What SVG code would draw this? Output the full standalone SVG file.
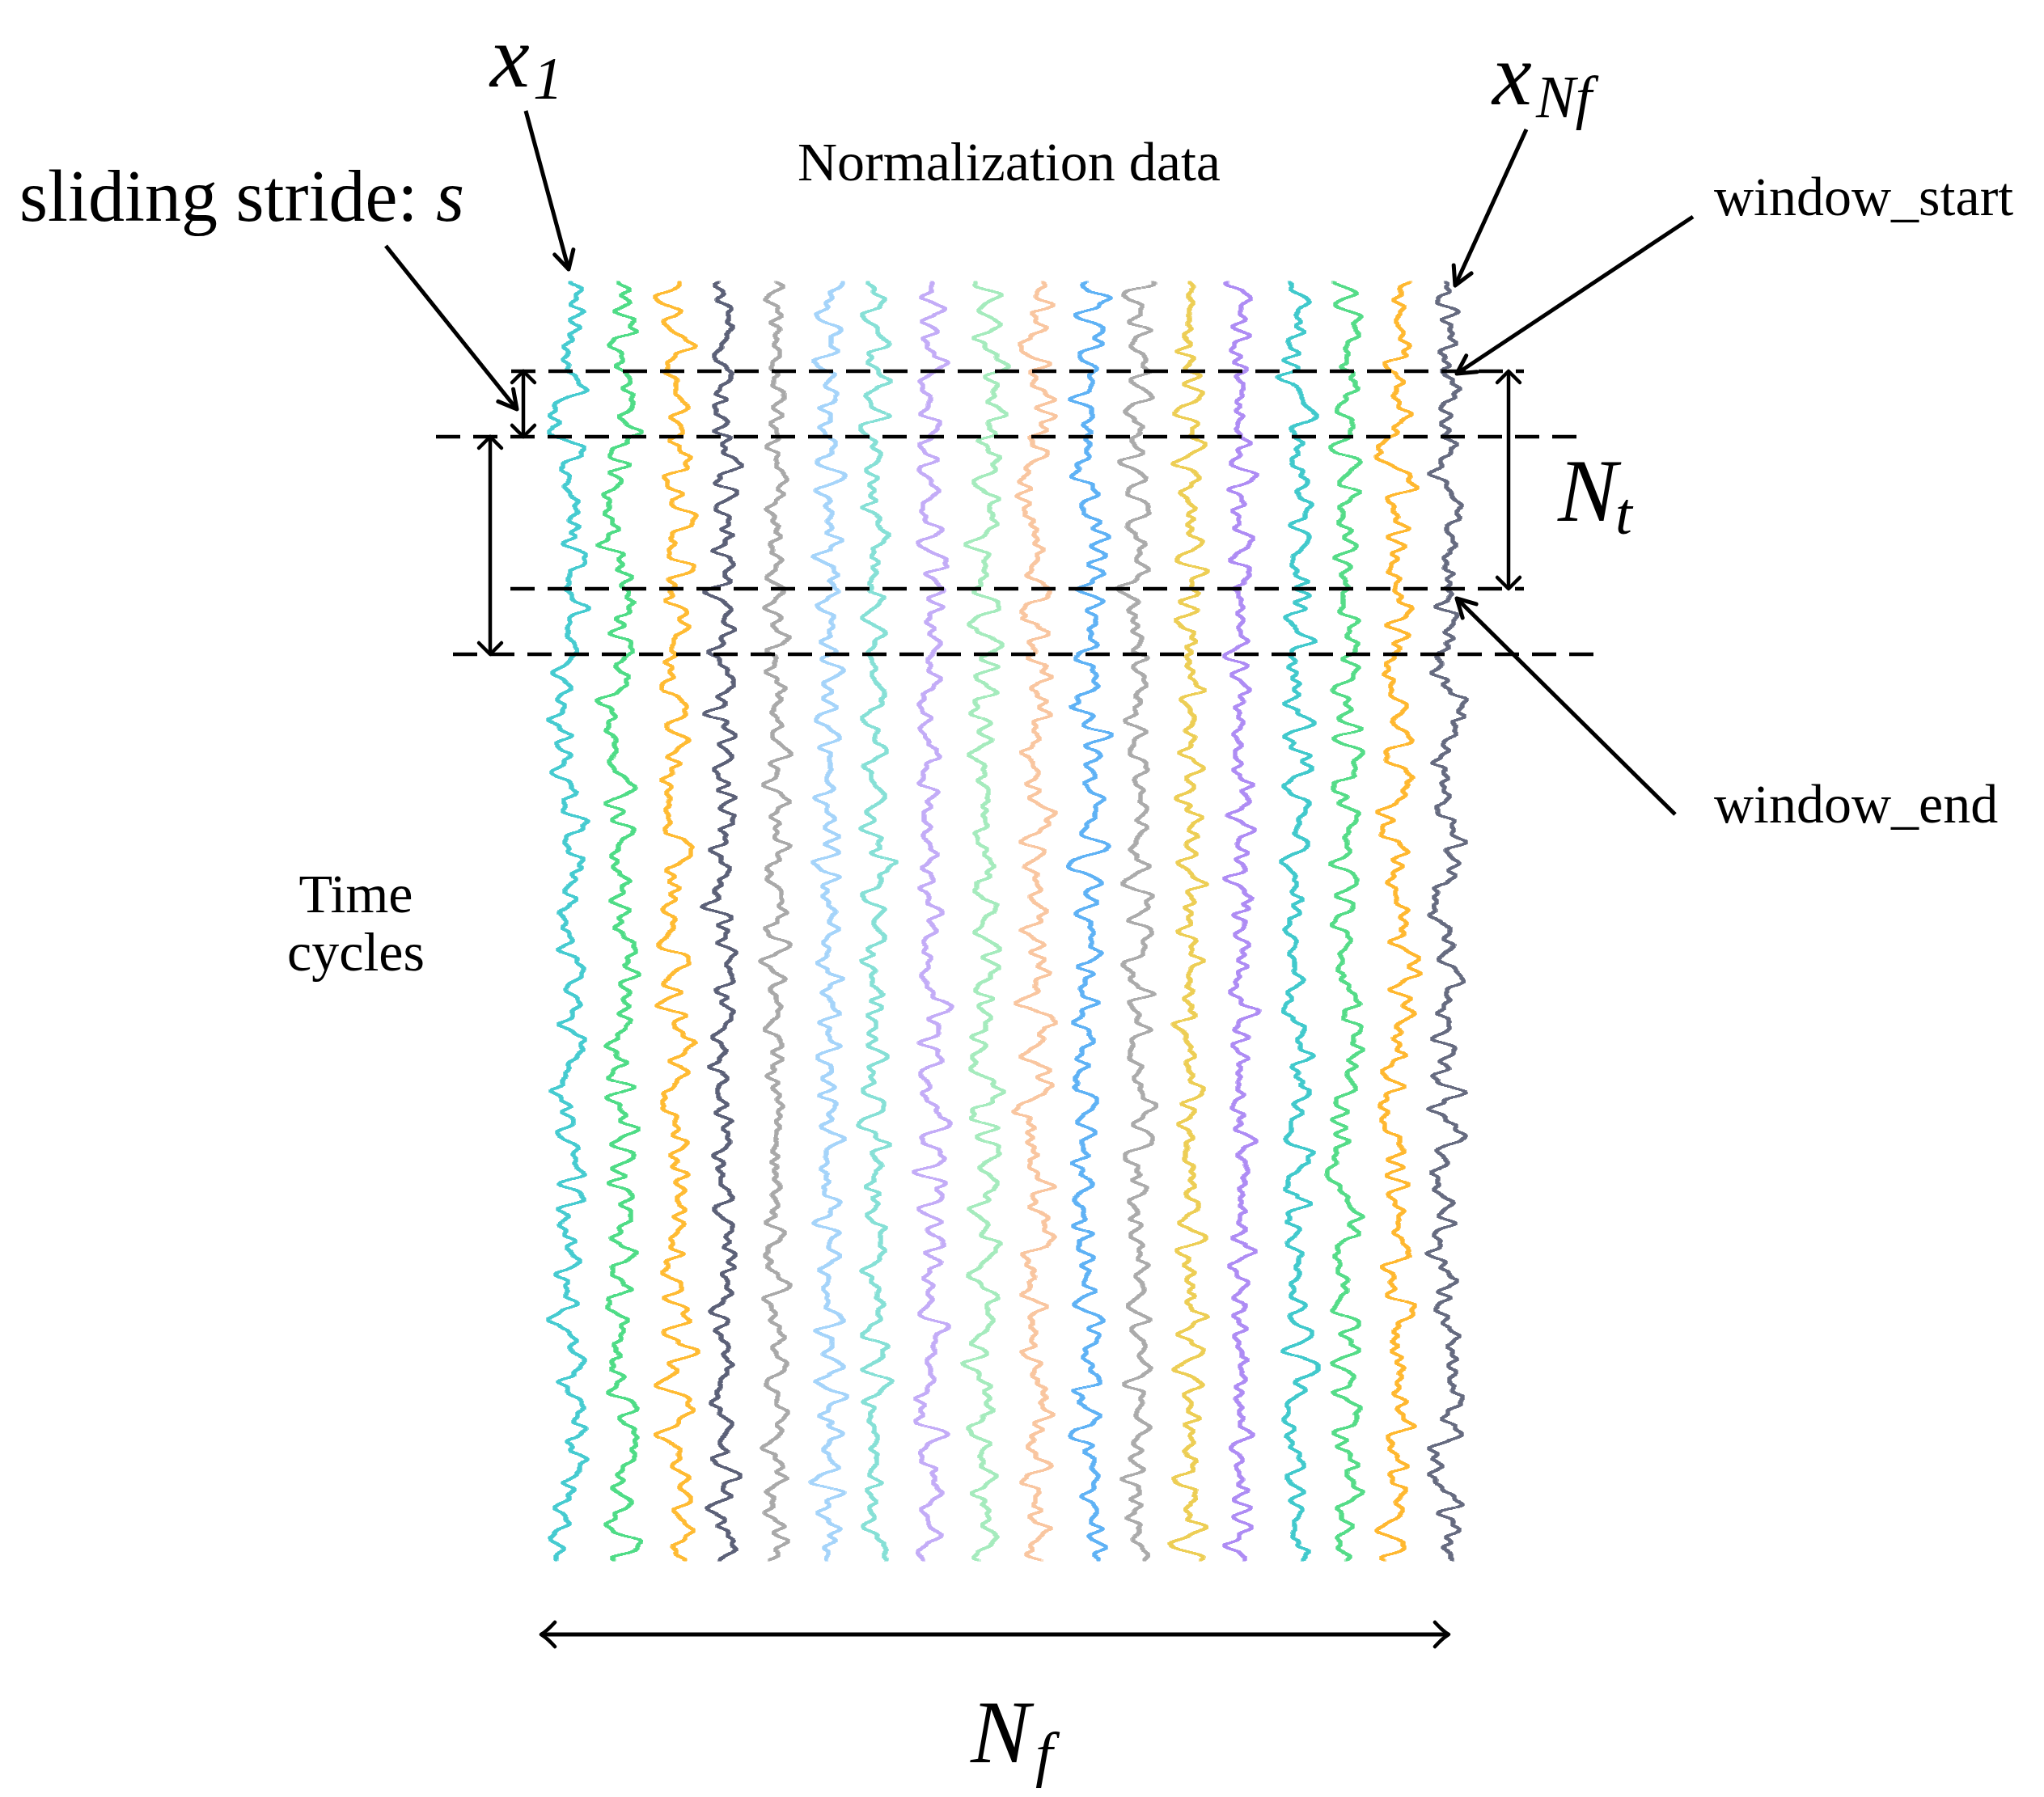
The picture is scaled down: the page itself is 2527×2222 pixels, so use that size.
<svg xmlns="http://www.w3.org/2000/svg" width="2527" height="2222" viewBox="0 0 2527 2222">
<style>
.t{font-family:"Liberation Serif","Times New Roman",serif;fill:#000}
.it{font-style:italic}
.sig{fill:none;stroke-width:3.4;stroke-linecap:round}
.dash{fill:none;stroke:#000;stroke-width:4.5;stroke-dasharray:30 16}
.ptr{fill:none;stroke:#000;stroke-width:5;marker-end:url(#ah)}
.dbl{fill:none;stroke:#000;stroke-width:4.5;marker-start:url(#dv);marker-end:url(#dv)}
.nf{fill:none;stroke:#000;stroke-width:5;marker-start:url(#nfh);marker-end:url(#nfh)}
</style>
<defs>
<marker id="ah" markerUnits="userSpaceOnUse" viewBox="-30 -20 40 40" markerWidth="40" markerHeight="40" refX="0" refY="0" orient="auto" overflow="visible"><path d="M-22,-12 L0,0 L-22,12" fill="none" stroke="#000" stroke-width="5" stroke-linecap="round" stroke-linejoin="round"/></marker>
<marker id="dv" markerUnits="userSpaceOnUse" viewBox="-30 -20 40 40" markerWidth="40" markerHeight="40" refX="0" refY="0" orient="auto-start-reverse" overflow="visible"><path d="M-14,-14 L0,0 L-14,14" fill="none" stroke="#000" stroke-width="4.5" stroke-linecap="round" stroke-linejoin="round"/></marker>
<marker id="nfh" markerUnits="userSpaceOnUse" viewBox="-30 -20 40 40" markerWidth="40" markerHeight="40" refX="0" refY="0" orient="auto-start-reverse" overflow="visible"><path d="M-17,-15 Q-7,-4 0,0 Q-7,4 -17,15" fill="none" stroke="#000" stroke-width="4.5" stroke-linecap="round" stroke-linejoin="round"/></marker>
<filter id="w1" filterUnits="userSpaceOnUse" x="644" y="320" width="120" height="1640" color-interpolation-filters="sRGB"><feTurbulence type="fractalNoise" baseFrequency="0.002 0.05" numOctaves="2" seed="3"/><feColorMatrix type="matrix" values="1 0 0 0 0 0 0 0 0 0.5 0 0 0 0 0 0 0 0 0 1"/><feDisplacementMap in="SourceGraphic" scale="78" xChannelSelector="R" yChannelSelector="G"/><feMorphology operator="dilate" radius="1.1"/><feGaussianBlur stdDeviation="0.7"/></filter>
<filter id="w2" filterUnits="userSpaceOnUse" x="709" y="320" width="120" height="1640" color-interpolation-filters="sRGB"><feTurbulence type="fractalNoise" baseFrequency="0.002 0.05" numOctaves="2" seed="11"/><feColorMatrix type="matrix" values="1 0 0 0 0 0 0 0 0 0.5 0 0 0 0 0 0 0 0 0 1"/><feDisplacementMap in="SourceGraphic" scale="78" xChannelSelector="R" yChannelSelector="G"/><feMorphology operator="dilate" radius="1.1"/><feGaussianBlur stdDeviation="0.7"/></filter>
<filter id="w3" filterUnits="userSpaceOnUse" x="777" y="320" width="120" height="1640" color-interpolation-filters="sRGB"><feTurbulence type="fractalNoise" baseFrequency="0.002 0.05" numOctaves="2" seed="23"/><feColorMatrix type="matrix" values="1 0 0 0 0 0 0 0 0 0.5 0 0 0 0 0 0 0 0 0 1"/><feDisplacementMap in="SourceGraphic" scale="78" xChannelSelector="R" yChannelSelector="G"/><feMorphology operator="dilate" radius="1.1"/><feGaussianBlur stdDeviation="0.7"/></filter>
<filter id="w4" filterUnits="userSpaceOnUse" x="835" y="320" width="120" height="1640" color-interpolation-filters="sRGB"><feTurbulence type="fractalNoise" baseFrequency="0.002 0.055" numOctaves="2" seed="37"/><feColorMatrix type="matrix" values="1 0 0 0 0 0 0 0 0 0.5 0 0 0 0 0 0 0 0 0 1"/><feDisplacementMap in="SourceGraphic" scale="70" xChannelSelector="R" yChannelSelector="G"/><feMorphology operator="dilate" radius="1.1"/><feGaussianBlur stdDeviation="0.7"/></filter>
<filter id="w5" filterUnits="userSpaceOnUse" x="900" y="320" width="120" height="1640" color-interpolation-filters="sRGB"><feTurbulence type="fractalNoise" baseFrequency="0.002 0.05" numOctaves="2" seed="41"/><feColorMatrix type="matrix" values="1 0 0 0 0 0 0 0 0 0.5 0 0 0 0 0 0 0 0 0 1"/><feDisplacementMap in="SourceGraphic" scale="70" xChannelSelector="R" yChannelSelector="G"/><feMorphology operator="dilate" radius="1.1"/><feGaussianBlur stdDeviation="0.7"/></filter>
<filter id="w6" filterUnits="userSpaceOnUse" x="965" y="320" width="120" height="1640" color-interpolation-filters="sRGB"><feTurbulence type="fractalNoise" baseFrequency="0.002 0.05" numOctaves="2" seed="53"/><feColorMatrix type="matrix" values="1 0 0 0 0 0 0 0 0 0.5 0 0 0 0 0 0 0 0 0 1"/><feDisplacementMap in="SourceGraphic" scale="75" xChannelSelector="R" yChannelSelector="G"/><feMorphology operator="dilate" radius="1.1"/><feGaussianBlur stdDeviation="0.7"/></filter>
<filter id="w7" filterUnits="userSpaceOnUse" x="1022" y="320" width="120" height="1640" color-interpolation-filters="sRGB"><feTurbulence type="fractalNoise" baseFrequency="0.002 0.05" numOctaves="2" seed="67"/><feColorMatrix type="matrix" values="1 0 0 0 0 0 0 0 0 0.5 0 0 0 0 0 0 0 0 0 1"/><feDisplacementMap in="SourceGraphic" scale="75" xChannelSelector="R" yChannelSelector="G"/><feMorphology operator="dilate" radius="1.1"/><feGaussianBlur stdDeviation="0.7"/></filter>
<filter id="w8" filterUnits="userSpaceOnUse" x="1091" y="320" width="120" height="1640" color-interpolation-filters="sRGB"><feTurbulence type="fractalNoise" baseFrequency="0.002 0.05" numOctaves="2" seed="71"/><feColorMatrix type="matrix" values="1 0 0 0 0 0 0 0 0 0.5 0 0 0 0 0 0 0 0 0 1"/><feDisplacementMap in="SourceGraphic" scale="75" xChannelSelector="R" yChannelSelector="G"/><feMorphology operator="dilate" radius="1.1"/><feGaussianBlur stdDeviation="0.7"/></filter>
<filter id="w9" filterUnits="userSpaceOnUse" x="1160" y="320" width="120" height="1640" color-interpolation-filters="sRGB"><feTurbulence type="fractalNoise" baseFrequency="0.002 0.05" numOctaves="2" seed="83"/><feColorMatrix type="matrix" values="1 0 0 0 0 0 0 0 0 0.5 0 0 0 0 0 0 0 0 0 1"/><feDisplacementMap in="SourceGraphic" scale="75" xChannelSelector="R" yChannelSelector="G"/><feMorphology operator="dilate" radius="1.1"/><feGaussianBlur stdDeviation="0.7"/></filter>
<filter id="w10" filterUnits="userSpaceOnUse" x="1221" y="320" width="120" height="1640" color-interpolation-filters="sRGB"><feTurbulence type="fractalNoise" baseFrequency="0.002 0.055" numOctaves="2" seed="97"/><feColorMatrix type="matrix" values="1 0 0 0 0 0 0 0 0 0.5 0 0 0 0 0 0 0 0 0 1"/><feDisplacementMap in="SourceGraphic" scale="75" xChannelSelector="R" yChannelSelector="G"/><feMorphology operator="dilate" radius="1.1"/><feGaussianBlur stdDeviation="0.7"/></filter>
<filter id="w11" filterUnits="userSpaceOnUse" x="1286" y="320" width="120" height="1640" color-interpolation-filters="sRGB"><feTurbulence type="fractalNoise" baseFrequency="0.002 0.05" numOctaves="2" seed="101"/><feColorMatrix type="matrix" values="1 0 0 0 0 0 0 0 0 0.5 0 0 0 0 0 0 0 0 0 1"/><feDisplacementMap in="SourceGraphic" scale="78" xChannelSelector="R" yChannelSelector="G"/><feMorphology operator="dilate" radius="1.1"/><feGaussianBlur stdDeviation="0.7"/></filter>
<filter id="w12" filterUnits="userSpaceOnUse" x="1347" y="320" width="120" height="1640" color-interpolation-filters="sRGB"><feTurbulence type="fractalNoise" baseFrequency="0.002 0.05" numOctaves="2" seed="113"/><feColorMatrix type="matrix" values="1 0 0 0 0 0 0 0 0 0.5 0 0 0 0 0 0 0 0 0 1"/><feDisplacementMap in="SourceGraphic" scale="75" xChannelSelector="R" yChannelSelector="G"/><feMorphology operator="dilate" radius="1.1"/><feGaussianBlur stdDeviation="0.7"/></filter>
<filter id="w13" filterUnits="userSpaceOnUse" x="1412" y="320" width="120" height="1640" color-interpolation-filters="sRGB"><feTurbulence type="fractalNoise" baseFrequency="0.002 0.05" numOctaves="2" seed="127"/><feColorMatrix type="matrix" values="1 0 0 0 0 0 0 0 0 0.5 0 0 0 0 0 0 0 0 0 1"/><feDisplacementMap in="SourceGraphic" scale="78" xChannelSelector="R" yChannelSelector="G"/><feMorphology operator="dilate" radius="1.1"/><feGaussianBlur stdDeviation="0.7"/></filter>
<filter id="w14" filterUnits="userSpaceOnUse" x="1474" y="320" width="120" height="1640" color-interpolation-filters="sRGB"><feTurbulence type="fractalNoise" baseFrequency="0.002 0.05" numOctaves="2" seed="131"/><feColorMatrix type="matrix" values="1 0 0 0 0 0 0 0 0 0.5 0 0 0 0 0 0 0 0 0 1"/><feDisplacementMap in="SourceGraphic" scale="78" xChannelSelector="R" yChannelSelector="G"/><feMorphology operator="dilate" radius="1.1"/><feGaussianBlur stdDeviation="0.7"/></filter>
<filter id="w15" filterUnits="userSpaceOnUse" x="1543" y="320" width="120" height="1640" color-interpolation-filters="sRGB"><feTurbulence type="fractalNoise" baseFrequency="0.002 0.05" numOctaves="2" seed="149"/><feColorMatrix type="matrix" values="1 0 0 0 0 0 0 0 0 0.5 0 0 0 0 0 0 0 0 0 1"/><feDisplacementMap in="SourceGraphic" scale="78" xChannelSelector="R" yChannelSelector="G"/><feMorphology operator="dilate" radius="1.1"/><feGaussianBlur stdDeviation="0.7"/></filter>
<filter id="w16" filterUnits="userSpaceOnUse" x="1604" y="320" width="120" height="1640" color-interpolation-filters="sRGB"><feTurbulence type="fractalNoise" baseFrequency="0.002 0.05" numOctaves="2" seed="157"/><feColorMatrix type="matrix" values="1 0 0 0 0 0 0 0 0 0.5 0 0 0 0 0 0 0 0 0 1"/><feDisplacementMap in="SourceGraphic" scale="78" xChannelSelector="R" yChannelSelector="G"/><feMorphology operator="dilate" radius="1.1"/><feGaussianBlur stdDeviation="0.7"/></filter>
<filter id="w17" filterUnits="userSpaceOnUse" x="1669" y="320" width="120" height="1640" color-interpolation-filters="sRGB"><feTurbulence type="fractalNoise" baseFrequency="0.002 0.05" numOctaves="2" seed="163"/><feColorMatrix type="matrix" values="1 0 0 0 0 0 0 0 0 0.5 0 0 0 0 0 0 0 0 0 1"/><feDisplacementMap in="SourceGraphic" scale="78" xChannelSelector="R" yChannelSelector="G"/><feMorphology operator="dilate" radius="1.1"/><feGaussianBlur stdDeviation="0.7"/></filter>
<filter id="w18" filterUnits="userSpaceOnUse" x="1730" y="320" width="120" height="1640" color-interpolation-filters="sRGB"><feTurbulence type="fractalNoise" baseFrequency="0.002 0.055" numOctaves="2" seed="179"/><feColorMatrix type="matrix" values="1 0 0 0 0 0 0 0 0 0.5 0 0 0 0 0 0 0 0 0 1"/><feDisplacementMap in="SourceGraphic" scale="70" xChannelSelector="R" yChannelSelector="G"/><feMorphology operator="dilate" radius="1.1"/><feGaussianBlur stdDeviation="0.7"/></filter>
</defs>
<rect width="2527" height="2222" fill="#fff"/>
<g id="signals">
<line class="sig" x1="704" y1="350" x2="704" y2="1928" stroke="#46cbd0" filter="url(#w1)"/>
<line class="sig" x1="769" y1="350" x2="769" y2="1928" stroke="#4fdc86" filter="url(#w2)"/>
<line class="sig" x1="837" y1="350" x2="837" y2="1928" stroke="#ffbb33" filter="url(#w3)"/>
<line class="sig" x1="895" y1="350" x2="895" y2="1928" stroke="#5c6178" filter="url(#w4)"/>
<line class="sig" x1="960" y1="350" x2="960" y2="1928" stroke="#a9a9a9" filter="url(#w5)"/>
<line class="sig" x1="1025" y1="350" x2="1025" y2="1928" stroke="#a5d4fa" filter="url(#w6)"/>
<line class="sig" x1="1082" y1="350" x2="1082" y2="1928" stroke="#86e0d6" filter="url(#w7)"/>
<line class="sig" x1="1151" y1="350" x2="1151" y2="1928" stroke="#c3acf7" filter="url(#w8)"/>
<line class="sig" x1="1220" y1="350" x2="1220" y2="1928" stroke="#a5ebbd" filter="url(#w9)"/>
<line class="sig" x1="1281" y1="350" x2="1281" y2="1928" stroke="#f9c6a0" filter="url(#w10)"/>
<line class="sig" x1="1346" y1="350" x2="1346" y2="1928" stroke="#5fb2f5" filter="url(#w11)"/>
<line class="sig" x1="1407" y1="350" x2="1407" y2="1928" stroke="#ababab" filter="url(#w12)"/>
<line class="sig" x1="1472" y1="350" x2="1472" y2="1928" stroke="#edce55" filter="url(#w13)"/>
<line class="sig" x1="1534" y1="350" x2="1534" y2="1928" stroke="#ae8cf4" filter="url(#w14)"/>
<line class="sig" x1="1603" y1="350" x2="1603" y2="1928" stroke="#41c9cc" filter="url(#w15)"/>
<line class="sig" x1="1664" y1="350" x2="1664" y2="1928" stroke="#55dc88" filter="url(#w16)"/>
<line class="sig" x1="1729" y1="350" x2="1729" y2="1928" stroke="#ffb830" filter="url(#w17)"/>
<line class="sig" x1="1790" y1="350" x2="1790" y2="1928" stroke="#666b80" filter="url(#w18)"/>
</g>
<g id="window-lines">
<line class="dash" x1="632" y1="459" x2="1884" y2="459"/>
<line class="dash" x1="539" y1="540" x2="1950" y2="540"/>
<line class="dash" x1="631" y1="728" x2="1884" y2="728"/>
<line class="dash" x1="560" y1="809" x2="1970" y2="809"/>
</g>
<g id="connectors">
<line class="dbl" x1="647" y1="459" x2="647" y2="540"/>
<line class="dbl" x1="606" y1="540" x2="606" y2="809"/>
<line class="dbl" x1="1865" y1="459" x2="1865" y2="728"/>
<line class="nf" x1="669" y1="2021" x2="1791" y2="2021"/>
<line class="ptr" x1="650" y1="137" x2="703" y2="333"/>
<line class="ptr" x1="477" y1="304" x2="639" y2="506"/>
<line class="ptr" x1="1887" y1="160" x2="1799" y2="353"/>
<line class="ptr" x1="2093" y1="268" x2="1801" y2="462"/>
<line class="ptr" x1="2071" y1="1007" x2="1801" y2="740"/>
</g>
<g id="label-x1"><text class="t it" x="606" y="107" font-size="110">x</text><text class="t it" x="659" y="122" font-size="74">1</text></g>
<g id="label-stride"><text class="t" x="24" y="273" font-size="90">sliding stride: <tspan class="it">s</tspan></text></g>
<g id="label-norm"><text class="t" x="986" y="223" font-size="68">Normalization data</text></g>
<g id="label-xnf"><text class="t it" x="1845" y="129" font-size="110">x</text><text class="t it" x="1899" y="145" font-size="73">Nf</text></g>
<g id="label-wstart"><text class="t" x="2119" y="266" font-size="68">window_start</text></g>
<g id="label-wend"><text class="t" x="2119" y="1017" font-size="68">window_end</text></g>
<g id="label-time"><text class="t" x="440" y="1128" font-size="68" text-anchor="middle">Time</text><text class="t" x="440" y="1200" font-size="68" text-anchor="middle">cycles</text></g>
<g id="label-nt"><text class="t it" x="1926" y="644" font-size="110">N</text><text class="t it" x="1997" y="660" font-size="75">t</text></g>
<g id="label-nf"><text class="t it" x="1200" y="2179" font-size="110">N</text><text class="t it" x="1280" y="2195" font-size="77">f</text></g>
</svg>
